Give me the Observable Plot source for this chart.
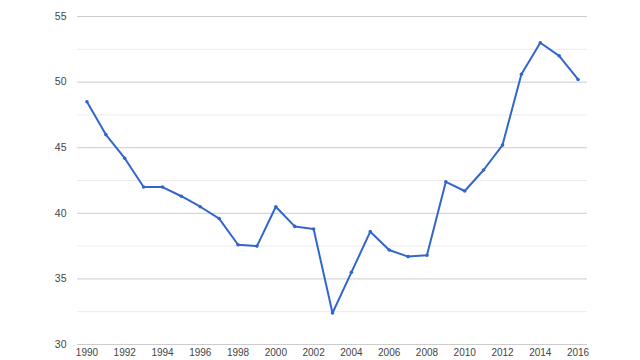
<!DOCTYPE html>
<html>
<head>
<meta charset="utf-8">
<script src="https://cdn.jsdelivr.net/npm/d3@7"></script>
<script src="https://cdn.jsdelivr.net/npm/@observablehq/plot@0.6"></script>
<style>
  html, body { margin: 0; padding: 0; background: #fff; }
  #chart { width: 640px; height: 360px; }
</style>
</head>
<body>
<div id="chart"></div>
<script>
const years = [1990,1991,1992,1993,1994,1995,1996,1997,1998,1999,2000,2001,2002,2003,2004,2005,2006,2007,2008,2009,2010,2011,2012,2013,2014,2015,2016];
const values = [48.5,46.0,44.2,42.0,42.0,41.3,40.5,39.6,37.6,37.5,40.5,39.0,38.8,32.4,35.5,38.6,37.2,36.7,36.8,42.4,41.7,43.3,45.2,50.6,53.0,52.0,50.2];
const yTicks = [30,35,40,45,50,55];
const yMinorTicks = [32.5,37.5,42.5,47.5,52.5];
const xTicks = [1990,1992,1994,1996,1998,2000,2002,2004,2006,2008,2010,2012,2014,2016];

const data = years.map((y, i) => ({year: y, value: values[i]}));

const chart = Plot.plot({
  width: 640,
  height: 360,
  marginLeft: 77,
  marginRight: 53,
  marginTop: 16,
  marginBottom: 16,
  style: {fontFamily: "Arial, 'Liberation Sans', sans-serif", fontSize: "10px", color: "#444", background: "#fff"},
  x: {domain: [1989.5, 2016.5], ticks: xTicks, tickFormat: "d", tickSize: 0, tickPadding: 4, label: null},
  y: {domain: [30, 55], ticks: yTicks, tickSize: 0, tickPadding: 11, label: null},
  marks: [
    Plot.ruleY(yMinorTicks, {stroke: "#ebebeb", strokeWidth: 1}),
    Plot.ruleY(yTicks, {stroke: "#cccccc", strokeWidth: 1}),
    Plot.axisY({ticks: yTicks, tickSize: 0, tickPadding: 11, fontSize: 10.5, label: null}),
    Plot.axisX({ticks: xTicks, tickFormat: "d", tickSize: 0, tickPadding: 4, fontSize: 10, label: null}),
    Plot.line(data, {x: "year", y: "value", stroke: "#3366cc", strokeWidth: 2}),
    Plot.dot(data, {x: "year", y: "value", fill: "#3366cc", r: 1.8})
  ]
});
document.getElementById("chart").appendChild(chart);
</script>
</body>
</html>
